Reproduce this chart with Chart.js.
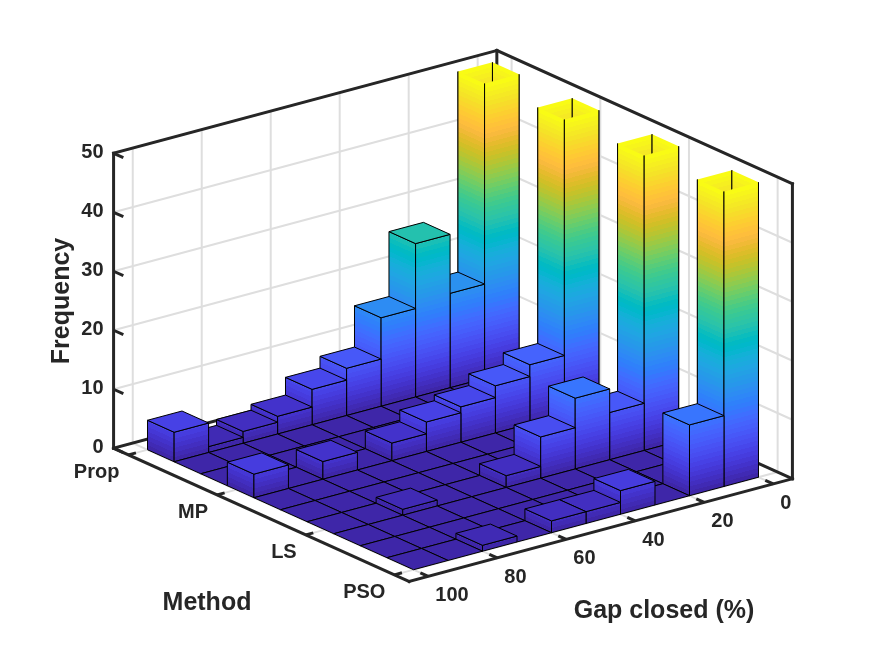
<!DOCTYPE html>
<html>
<head>
<meta charset="utf-8">
<title>Gap closed histogram</title>
<script src="https://cdn.jsdelivr.net/npm/chart.js@4.4.0/dist/chart.umd.min.js"></script>
<style>
  html, body { margin: 0; padding: 0; background: #fff; }
  #chart { display: block; }
</style>
</head>
<body>
<canvas id="chart" width="875" height="656"></canvas>
<script>
// ======= data =======
const methods = ["Prop", "MP", "LS", "PSO"];
const methodValues = [1, 2, 3, 4];

// bin edges of the 2-D histogram
const gapEdges = [0, 10, 20, 30, 40, 50, 60, 70, 80, 90, 100];
const methodEdges = [1, 1.3, 1.6, 1.9, 2.2, 2.5, 2.8, 3.1, 3.4, 3.7, 4];

// frequency per gap bin, bin 0-10 first
const propCounts = [50, 16, 26, 15, 8, 6, 3, 2, 1, 5];
const mpCounts   = [50, 10, 8, 6, 5, 3, 0, 3, 0, 4];
const lsCounts   = [50, 8, 12, 7, 2, 0, 0, 1, 0, 0];
const psoCounts  = [50, 12, 0, 4, 2, 2, 0, 1, 0, 0];

const gapTicks = [0, 20, 40, 60, 80, 100];
const freqTicks = [0, 10, 20, 30, 40, 50];

// axis limits
const gapLimits = [-5.556, 105.556];
const methodLimits = [0.8333, 4.1667];
const freqLimits = [0, 50];

// ======= look =======
// camera: turn about the vertical axis, elevation, px per box unit
const VIEW = { turn: 52.36, el: 20.35, scale: 484, aspect: [1, 1, 0.65], cx: 453, cy: 316 };
const AXIS_COLOR = "#262626";
const GRID_COLOR = "#dedede";
const TICK_FONT = 'bold 20px "Liberation Sans", Arial, sans-serif';
const LABEL_FONT = 'bold 25px "Liberation Sans", Arial, sans-serif';

// parula, 64 colours
const PARULA = [
  [0.2422,0.1504,0.6603],[0.2504,0.1650,0.7076],[0.2578,0.1818,0.7511],[0.2647,0.1978,0.7952],
  [0.2706,0.2147,0.8364],[0.2751,0.2342,0.8710],[0.2783,0.2559,0.8991],[0.2803,0.2782,0.9221],
  [0.2813,0.3006,0.9414],[0.2810,0.3228,0.9579],[0.2795,0.3447,0.9717],[0.2760,0.3667,0.9829],
  [0.2699,0.3892,0.9906],[0.2602,0.4123,0.9952],[0.2440,0.4358,0.9988],[0.2206,0.4603,0.9973],
  [0.1963,0.4847,0.9892],[0.1834,0.5074,0.9798],[0.1786,0.5289,0.9682],[0.1764,0.5499,0.9520],
  [0.1687,0.5703,0.9359],[0.1540,0.5902,0.9218],[0.1460,0.6091,0.9079],[0.1380,0.6276,0.8973],
  [0.1248,0.6459,0.8883],[0.1113,0.6635,0.8763],[0.0952,0.6798,0.8598],[0.0689,0.6948,0.8394],
  [0.0297,0.7082,0.8163],[0.0036,0.7203,0.7917],[0.0067,0.7312,0.7660],[0.0433,0.7411,0.7394],
  [0.0964,0.7500,0.7120],[0.1408,0.7584,0.6842],[0.1717,0.7670,0.6554],[0.1938,0.7758,0.6251],
  [0.2161,0.7843,0.5923],[0.2470,0.7918,0.5567],[0.2906,0.7973,0.5188],[0.3406,0.8008,0.4789],
  [0.3909,0.8029,0.4354],[0.4456,0.8024,0.3909],[0.5044,0.7993,0.3480],[0.5616,0.7942,0.3045],
  [0.6174,0.7876,0.2612],[0.6720,0.7793,0.2227],[0.7242,0.7698,0.1910],[0.7738,0.7598,0.1646],
  [0.8203,0.7498,0.1535],[0.8634,0.7406,0.1596],[0.9035,0.7330,0.1774],[0.9393,0.7288,0.2100],
  [0.9728,0.7298,0.2394],[0.9956,0.7434,0.2371],[0.9970,0.7659,0.2199],[0.9952,0.7893,0.2028],
  [0.9892,0.8136,0.1885],[0.9786,0.8386,0.1766],[0.9676,0.8639,0.1643],[0.9610,0.8890,0.1537],
  [0.9597,0.9135,0.1423],[0.9628,0.9373,0.1265],[0.9691,0.9606,0.1060],[0.9769,0.9839,0.0805]
];

function rgb(c) {
  return `rgb(${Math.round(c[0] * 255)},${Math.round(c[1] * 255)},${Math.round(c[2] * 255)})`;
}

function colorIndex(v) {
  const t = (v - freqLimits[0]) / (freqLimits[1] - freqLimits[0]);
  return Math.max(0, Math.min(PARULA.length - 1, Math.floor(t * PARULA.length)));
}

// ======= cells of the histogram (one per method bin x gap bin) =======
const countsByMethod = [propCounts, mpCounts, lsCounts, psoCounts];
const cells = [];
for (let r = 0; r < methodEdges.length - 1; r++) {
  const lo = methodEdges[r], hi = methodEdges[r + 1];
  const last = r === methodEdges.length - 2;
  const k = methodValues.findIndex(v => v >= lo && (v < hi || (last && v <= hi)));
  for (let c = 0; c < gapEdges.length - 1; c++) {
    cells.push({
      x: (gapEdges[c] + gapEdges[c + 1]) / 2,
      y: (lo + hi) / 2,
      r: r,
      c: c,
      count: k < 0 ? 0 : countsByMethod[k][c]
    });
  }
}

// 3-D -> canvas, through the chart's own scales
function makeProjector(chart) {
  const xs = chart.scales.x, ys = chart.scales.y, zs = chart.scales.z;
  const area = chart.chartArea;
  const th = VIEW.turn * Math.PI / 180, el = VIEW.el * Math.PI / 180;
  const ct = Math.cos(th), st = Math.sin(th), se = Math.sin(el), ce = Math.cos(el);
  return (g, m, z) => {
    const fg = (xs.getPixelForValue(g) - xs.left) / xs.width;
    const fm = (ys.bottom - ys.getPixelForValue(m)) / ys.height;
    const fz = (zs.bottom - zs.getPixelForValue(z)) / zs.height;
    const X = (fm - 0.5) * VIEW.aspect[0];
    const Y = (0.5 - fg) * VIEW.aspect[1];
    const Z = (fz - 0.5) * VIEW.aspect[2];
    return [
      area.left + VIEW.cx + VIEW.scale * (X * ct + Y * st),
      area.top + VIEW.cy + VIEW.scale * (X * st * se - Y * ct * se - Z * ce)
    ];
  };
}

function line(ctx, a, b) {
  ctx.beginPath();
  ctx.moveTo(a[0], a[1]);
  ctx.lineTo(b[0], b[1]);
  ctx.stroke();
}

function outline(ctx, pts, closed) {
  ctx.beginPath();
  ctx.moveTo(pts[0][0], pts[0][1]);
  for (let i = 1; i < pts.length; i++) ctx.lineTo(pts[i][0], pts[i][1]);
  if (closed) ctx.closePath();
  ctx.stroke();
}

// banded gradient like interpolated colormap shading
function bandGradient(ctx, H, h) {
  const grad = ctx.createLinearGradient(0, 0, 0, -H);
  const top = (h - freqLimits[0]) / (freqLimits[1] - freqLimits[0]);
  const n = PARULA.length;
  for (let i = 0; i < n; i++) {
    const t0 = i / n;
    if (t0 >= top) break;
    const t1 = Math.min((i + 1) / n, top);
    const col = rgb(PARULA[i]);
    grad.addColorStop(t0 / top, col);
    grad.addColorStop(t1 / top, col);
  }
  return grad;
}

// vertical face standing on the floor edge a-b
function sideFace(ctx, P, a, b, h, clipped) {
  const p0 = P(a[0], a[1], 0), p1 = P(b[0], b[1], 0);
  const q0 = P(a[0], a[1], h), q1 = P(b[0], b[1], h);
  const H = p0[1] - q0[1];
  const ex = p1[0] - p0[0], ey = p1[1] - p0[1];
  ctx.save();
  ctx.transform(1, ey / ex, 0, 1, p0[0], p0[1]);
  ctx.fillStyle = bandGradient(ctx, H, h);
  ctx.fillRect(0, -H, ex, H);
  ctx.restore();
  if (clipped) outline(ctx, [q0, p0, p1, q1], false);
  else outline(ctx, [p0, p1, q1, q0], true);
}

function topFace(ctx, P, gl, gh, ml, mh, h) {
  const pts = [P(gl, ml, h), P(gh, ml, h), P(gh, mh, h), P(gl, mh, h)];
  ctx.beginPath();
  ctx.moveTo(pts[0][0], pts[0][1]);
  for (let i = 1; i < 4; i++) ctx.lineTo(pts[i][0], pts[i][1]);
  ctx.closePath();
  ctx.fillStyle = rgb(PARULA[colorIndex(h)]);
  ctx.fill();
  ctx.stroke();
}

const bar3Plugin = {
  id: "bar3",
  beforeDraw(chart) {
    const ctx = chart.ctx;
    ctx.save();
    ctx.fillStyle = "#fff";
    ctx.fillRect(0, 0, chart.width, chart.height);
    ctx.restore();
  },
  afterDatasetsDraw(chart) {
    const ctx = chart.ctx;
    const P = makeProjector(chart);
    const [gLo, gHi] = gapLimits;
    const [mLo, mHi] = methodLimits;
    const [zLo, zHi] = freqLimits;

    ctx.save();
    ctx.lineCap = "butt";

    // grid on the back walls and floor
    ctx.strokeStyle = GRID_COLOR;
    ctx.lineWidth = 2;
    gapTicks.forEach(g => {
      line(ctx, P(g, mLo, zLo), P(g, mLo, zHi));
      line(ctx, P(g, mLo, zLo), P(g, mHi, zLo));
    });
    methodValues.forEach(m => {
      line(ctx, P(gLo, m, zLo), P(gLo, m, zHi));
      line(ctx, P(gLo, m, zLo), P(gHi, m, zLo));
    });
    freqTicks.forEach(z => {
      line(ctx, P(gHi, mLo, z), P(gLo, mLo, z));
      line(ctx, P(gLo, mLo, z), P(gLo, mHi, z));
    });

    // back edges of the box
    ctx.strokeStyle = AXIS_COLOR;
    ctx.lineWidth = 3;
    ctx.lineCap = "square";
    line(ctx, P(gHi, mLo, zLo), P(gLo, mLo, zLo));
    line(ctx, P(gLo, mLo, zLo), P(gLo, mHi, zLo));
    line(ctx, P(gLo, mLo, zLo), P(gLo, mLo, zHi));
    line(ctx, P(gLo, mHi, zLo), P(gLo, mHi, zHi));
    line(ctx, P(gHi, mLo, zHi), P(gLo, mLo, zHi));
    line(ctx, P(gLo, mLo, zHi), P(gLo, mHi, zHi));

    // bars, back to front
    ctx.strokeStyle = "#000";
    ctx.lineWidth = 1;
    ctx.lineJoin = "miter";
    ctx.lineCap = "butt";
    const pts = chart.data.datasets[0].data;
    pts.forEach(cell => {
      const gl = gapEdges[cell.c], gh = gapEdges[cell.c + 1];
      const ml = methodEdges[cell.r], mh = methodEdges[cell.r + 1];
      const h = cell.count;
      if (h <= 0) {
        topFace(ctx, P, gl, gh, ml, mh, 0);
        return;
      }
      const clipped = h >= zHi;
      if (clipped) {
        // top face sits on the box lid and is cut away: inner walls show
        sideFace(ctx, P, [gh, ml], [gl, ml], h, true);
        sideFace(ctx, P, [gl, ml], [gl, mh], h, true);
      }
      sideFace(ctx, P, [gh, ml], [gh, mh], h, clipped);
      sideFace(ctx, P, [gh, mh], [gl, mh], h, clipped);
      if (!clipped) topFace(ctx, P, gl, gh, ml, mh, h);
    });

    // front axes
    ctx.strokeStyle = AXIS_COLOR;
    ctx.lineWidth = 3;
    ctx.lineCap = "square";
    line(ctx, P(gHi, mLo, zLo), P(gHi, mHi, zLo));
    line(ctx, P(gHi, mHi, zLo), P(gLo, mHi, zLo));
    line(ctx, P(gHi, mLo, zLo), P(gHi, mLo, zHi));

    ctx.lineCap = "butt";
    freqTicks.forEach(z => line(ctx, P(gHi, mLo, z), P(gHi, mLo + 0.11, z)));
    methodValues.forEach(m => line(ctx, P(gHi, m, zLo), P(gHi - 2.2, m, zLo)));
    gapTicks.forEach(g => line(ctx, P(g, mHi, zLo), P(g, mHi - 0.09, zLo)));

    // tick labels
    ctx.fillStyle = AXIS_COLOR;
    ctx.font = TICK_FONT;
    ctx.textBaseline = "middle";
    ctx.textAlign = "right";
    freqTicks.forEach(z => {
      const p = P(gHi, mLo, z);
      ctx.fillText(String(z), p[0] - 10, p[1] - 1);
    });
    methodValues.forEach((m, i) => {
      const p = P(gHi, m, zLo);
      ctx.fillText(methods[i], p[0] - 9, p[1] + 17.5);
    });
    ctx.textAlign = "left";
    gapTicks.forEach(g => {
      const p = P(g, mHi, zLo);
      ctx.fillText(String(g), p[0] + 7, p[1] + 19.5);
    });

    // axis titles
    ctx.font = LABEL_FONT;
    ctx.textAlign = "center";
    ctx.fillText("Method", 207, 603);
    ctx.fillText("Gap closed (%)", 664, 611);
    ctx.save();
    ctx.translate(62, 301);
    ctx.rotate(-Math.PI / 2);
    ctx.fillText("Frequency", 0, 0);
    ctx.restore();

    ctx.restore();
  }
};

new Chart(document.getElementById("chart"), {
  type: "scatter",
  data: {
    datasets: [{
      label: "Frequency",
      data: cells,
      pointRadius: 0,
      pointHoverRadius: 0
    }]
  },
  options: {
    responsive: false,
    animation: false,
    devicePixelRatio: 1,
    layout: { padding: 0 },
    events: [],
    plugins: {
      legend: { display: false },
      tooltip: { enabled: false }
    },
    scales: {
      x: { type: "linear", min: gapLimits[0], max: gapLimits[1], display: false },
      y: { type: "linear", min: methodLimits[0], max: methodLimits[1], display: false },
      z: { type: "linear", axis: "y", min: freqLimits[0], max: freqLimits[1], display: false }
    }
  },
  plugins: [bar3Plugin]
});
</script>
</body>
</html>
